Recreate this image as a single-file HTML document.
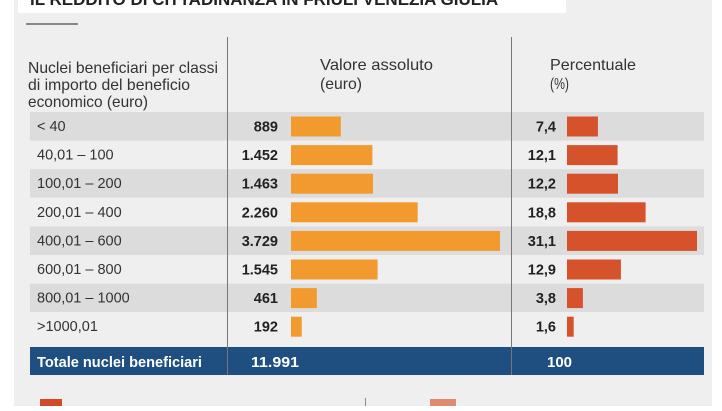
<!DOCTYPE html>
<html><head><meta charset="utf-8"><style>
body{margin:0;width:722px;height:406px;overflow:hidden;background:#fff;font-family:"Liberation Sans",sans-serif}
</style></head><body>
<svg width="722" height="406" xmlns="http://www.w3.org/2000/svg">
<rect x="14" y="0" width="698" height="406" fill="#efefef"/>
<rect x="18" y="0" width="548" height="13" fill="#fff"/>
<text x="30" y="5" font-size="17" font-weight="bold" fill="#222">IL REDDITO DI CITTADINANZA IN FRIULI VENEZIA GIULIA</text>
<rect x="26" y="23" width="52" height="2" fill="#888"/>
<g font-size="16" fill="#333">
<text x="28" y="73" textLength="190" lengthAdjust="spacingAndGlyphs">Nuclei beneficiari per classi</text>
<text x="28" y="90" textLength="162" lengthAdjust="spacingAndGlyphs">di importo del beneficio</text>
<text x="28" y="107" textLength="120" lengthAdjust="spacingAndGlyphs">economico (euro)</text>
<text x="320" y="70" textLength="113" lengthAdjust="spacingAndGlyphs">Valore assoluto</text>
<text x="320" y="89" textLength="42" lengthAdjust="spacingAndGlyphs">(euro)</text>
<text x="550" y="70" textLength="86" lengthAdjust="spacingAndGlyphs">Percentuale</text>
<text x="550" y="89" textLength="19" lengthAdjust="spacingAndGlyphs">(%)</text>
</g>
<g id="rows"></g>
<rect x="30" y="347" width="674" height="28" fill="#1f4f80"/>
<text x="37" y="367" font-size="15" font-weight="bold" fill="#fff" textLength="165" lengthAdjust="spacingAndGlyphs">Totale nuclei beneficiari</text>
<text x="251" y="367" font-size="15" font-weight="bold" fill="#fff" textLength="48" lengthAdjust="spacingAndGlyphs">11.991</text>
<text x="547" y="367" font-size="15" font-weight="bold" fill="#fff">100</text>
<line x1="227.5" y1="37" x2="227.5" y2="375" stroke="#777"/>
<line x1="511.5" y1="37" x2="511.5" y2="375" stroke="#777"/>
<rect x="40" y="399" width="22" height="7" fill="#d24a2a"/>
<rect x="430" y="399" width="26" height="7" fill="#e08a70"/>
<line x1="365.5" y1="398" x2="365.5" y2="406" stroke="#888"/>
</svg>
<script>
const categories=["< 40","40,01 – 100","100,01 – 200","200,01 – 400","400,01 – 600","600,01 – 800","800,01 – 1000",">1000,01"];
const absValues=[889,1452,1463,2260,3729,1545,461,192];
const absLabels=["889","1.452","1.463","2.260","3.729","1.545","461","192"];
const pctValues=[7.4,12.1,12.2,18.8,31.1,12.9,3.8,1.6];
const pctLabels=["7,4","12,1","12,2","18,8","31,1","12,9","3,8","1,6"];
const NS="http://www.w3.org/2000/svg";
const g=document.getElementById('rows');
const rowY=i=>112+i*28.6;
const absW=v=>v*209/3729;
const pctW=v=>v*130/31.1;
function mk(tag,attrs,parent){const e=document.createElementNS(NS,tag);for(const k in attrs)e.setAttribute(k,attrs[k]);parent.appendChild(e);return e;}
categories.forEach((c,i)=>{
  const y=rowY(i);
  const bg=mk('rect',{x:30,y:y,width:674,height:28.6,fill:i%2===0?'#dcdcdc':'#efefef'},g);
  
  
  const t=mk('text',{x:37,y:y+19,'font-size':14.5,fill:'#333'},g);t.textContent=c;
  
  
  const av=mk('text',{x:278,y:y+19.5,'font-size':14.5,'font-weight':'bold',fill:'#222','text-anchor':'end'},g);av.textContent=absLabels[i];
  
  
  const ab=mk('rect',{x:291,y:y+4.5,width:absW(absValues[i]),height:20,fill:'#f29a2e'},g);
  
  
  const pv=mk('text',{x:556,y:y+19.5,'font-size':14.5,'font-weight':'bold',fill:'#222','text-anchor':'end'},g);pv.textContent=pctLabels[i];
  
  
  const pb=mk('rect',{x:567,y:y+4.5,width:pctW(pctValues[i]),height:20,fill:'#d5522b'},g);
  
  
});
</script>
</body></html>
